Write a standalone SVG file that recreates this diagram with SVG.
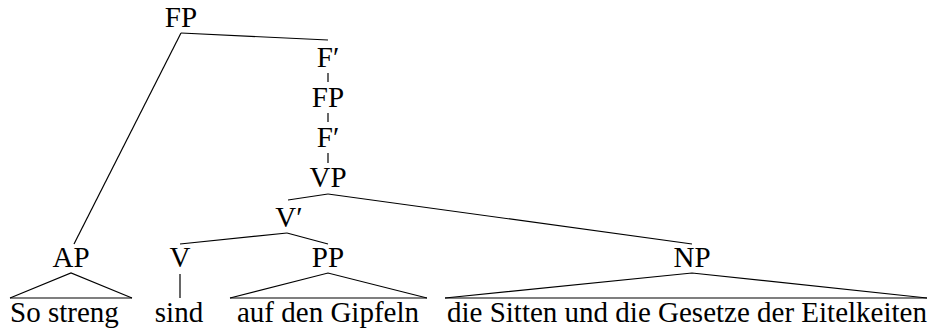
<svg xmlns="http://www.w3.org/2000/svg" width="930" height="331" viewBox="0 0 930 331">
<style>
text{font-family:'Liberation Serif','Times New Roman',Times,'DejaVu Serif',serif;font-size:29px;fill:#000}
.m{text-anchor:middle}
line,polyline{stroke:#000;stroke-width:1.2;fill:none}
</style>
<rect width="930" height="331" fill="#fff"/>
<g id="connectors">
<line x1="181" y1="33" x2="74" y2="244"/>
<line x1="181" y1="33" x2="328" y2="40"/>
<line x1="328" y1="73" x2="328" y2="82"/>
<line x1="328" y1="113" x2="328" y2="122"/>
<line x1="328" y1="153" x2="328" y2="163"/>
<line x1="328" y1="194" x2="288" y2="200"/>
<line x1="328" y1="194" x2="692" y2="244"/>
<line x1="287" y1="233" x2="180" y2="244"/>
<line x1="287" y1="233" x2="328" y2="244"/>
<polyline points="10,298 71,273 132,298"/>
<line x1="10" y1="298" x2="132" y2="298"/>
<line x1="180" y1="274" x2="180" y2="298"/>
<polyline points="230,298 328,273 427,298"/>
<line x1="230" y1="298" x2="427" y2="298"/>
<polyline points="445,298 692,273 927,298"/>
<line x1="445" y1="298" x2="927" y2="298"/>
</g>
<g id="FP1"><text class="m" x="181" y="27">FP</text></g>
<g id="Fbar1"><text class="m" x="328" y="67">F′</text></g>
<g id="FP2"><text class="m" x="328" y="107">FP</text></g>
<g id="Fbar2"><text class="m" x="328" y="147">F′</text></g>
<g id="VP"><text class="m" x="328" y="187">VP</text></g>
<g id="Vbar"><text class="m" x="289" y="227">V′</text></g>
<g id="AP"><text class="m" x="71" y="267">AP</text></g>
<g id="V"><text class="m" x="180" y="267">V</text></g>
<g id="PP"><text class="m" x="328" y="267">PP</text></g>
<g id="NP"><text class="m" x="692" y="267">NP</text></g>
<g id="leaf-AP"><text x="10" y="322">So streng</text></g>
<g id="leaf-V"><text class="m" x="179" y="322">sind</text></g>
<g id="leaf-PP"><text x="237" y="322">auf den Gipfeln</text></g>
<g id="leaf-NP"><text x="447" y="322">die Sitten und die Gesetze der Eitelkeiten</text></g>
</svg>
